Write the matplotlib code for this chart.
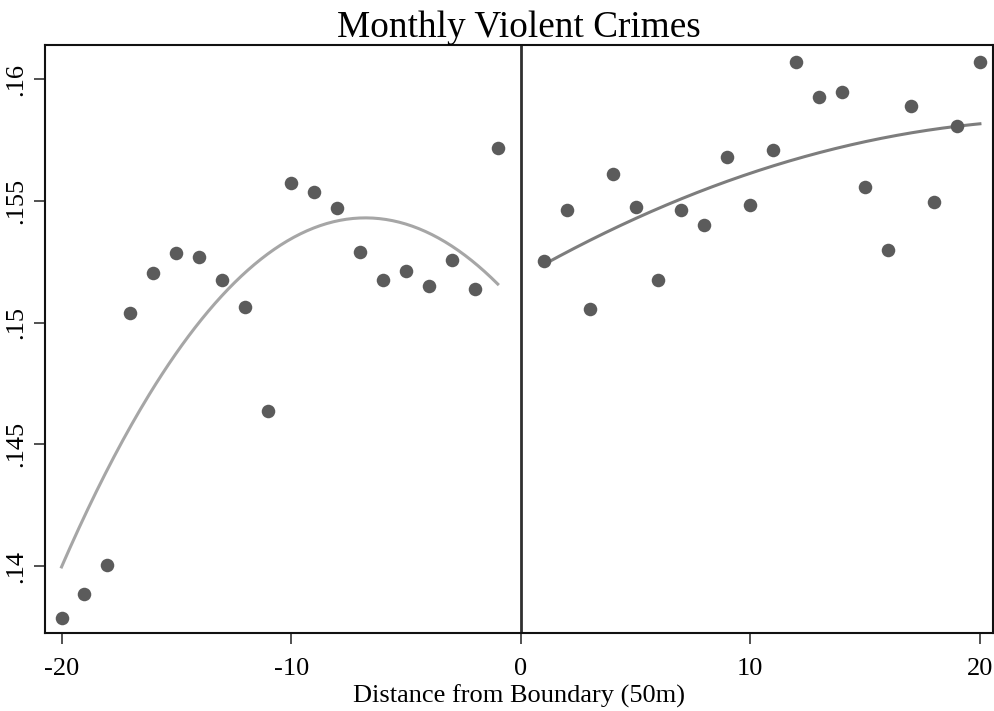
import numpy as np
import matplotlib.pyplot as plt

plt.rcParams['font.family'] = ['Liberation Serif', 'DejaVu Serif']

# binned means of monthly violent crimes by distance bin (50m units)
dist_left = np.arange(-20, 0)
crimes_left = [0.13788, 0.13884, 0.14004, 0.15039, 0.15203, 0.15285, 0.15269,
               0.15176, 0.15064, 0.14638, 0.15574, 0.15537, 0.15470, 0.15291,
               0.15176, 0.15211, 0.15150, 0.15258, 0.15139, 0.15717]
dist_right = np.arange(1, 21)
crimes_right = [0.15253, 0.15463, 0.15055, 0.15609, 0.15476, 0.15175, 0.15463,
                0.15402, 0.15682, 0.15483, 0.15708, 0.16070, 0.15925, 0.15945,
                0.15556, 0.15299, 0.15888, 0.15497, 0.15808, 0.16069]

xticks = [-20, -10, 0, 10, 20]
yticks = [0.14, 0.145, 0.15, 0.155, 0.16]
yticklabels = ['.14', '.145', '.15', '.155', '.16']

fig = plt.figure(figsize=(9.94, 7.11), dpi=100)
ax = fig.add_axes([45/994, 78/711, 948/994, 588/711])

# quadratic fits on each side of the boundary
cl = np.polyfit(dist_left, crimes_left, 2)
gl = np.linspace(dist_left.min(), dist_left.max(), 200)
ax.plot(gl, np.polyval(cl, gl), color='#a6a6a6', lw=2.2, zorder=2)

cr = np.polyfit(dist_right, crimes_right, 2)
gr = np.linspace(dist_right.min(), dist_right.max(), 200)
ax.plot(gr, np.polyval(cr, gr), color='#7d7d7d', lw=2.2, zorder=2)

ax.scatter(dist_left, crimes_left, s=95, color='#5b5b5b', lw=0, zorder=3)
ax.scatter(dist_right, crimes_right, s=95, color='#5b5b5b', lw=0, zorder=3)

ax.axvline(0, color='#303030', lw=2, zorder=1)

ax.set_xlim(-20.72, 20.57)
ax.set_ylim(0.13725, 0.1614)
ax.set_xticks(xticks)
ax.set_xticklabels([str(t) for t in xticks])
ax.set_yticks(yticks)
ax.set_yticklabels(yticklabels, rotation=90, va='center')

ax.tick_params(axis='both', direction='out', length=8, width=1.2,
               color='#333333', labelsize=19)
ax.tick_params(axis='x', pad=10)
ax.tick_params(axis='y', pad=5)
for sp in ax.spines.values():
    sp.set_linewidth(1.5)
    sp.set_color('#111111')

ax.set_xlabel('Distance from Boundary (50m)', fontsize=19, labelpad=3)
ax.set_title('Monthly Violent Crimes', fontsize=26.8, pad=6)

fig.savefig('out.png', dpi=100)
